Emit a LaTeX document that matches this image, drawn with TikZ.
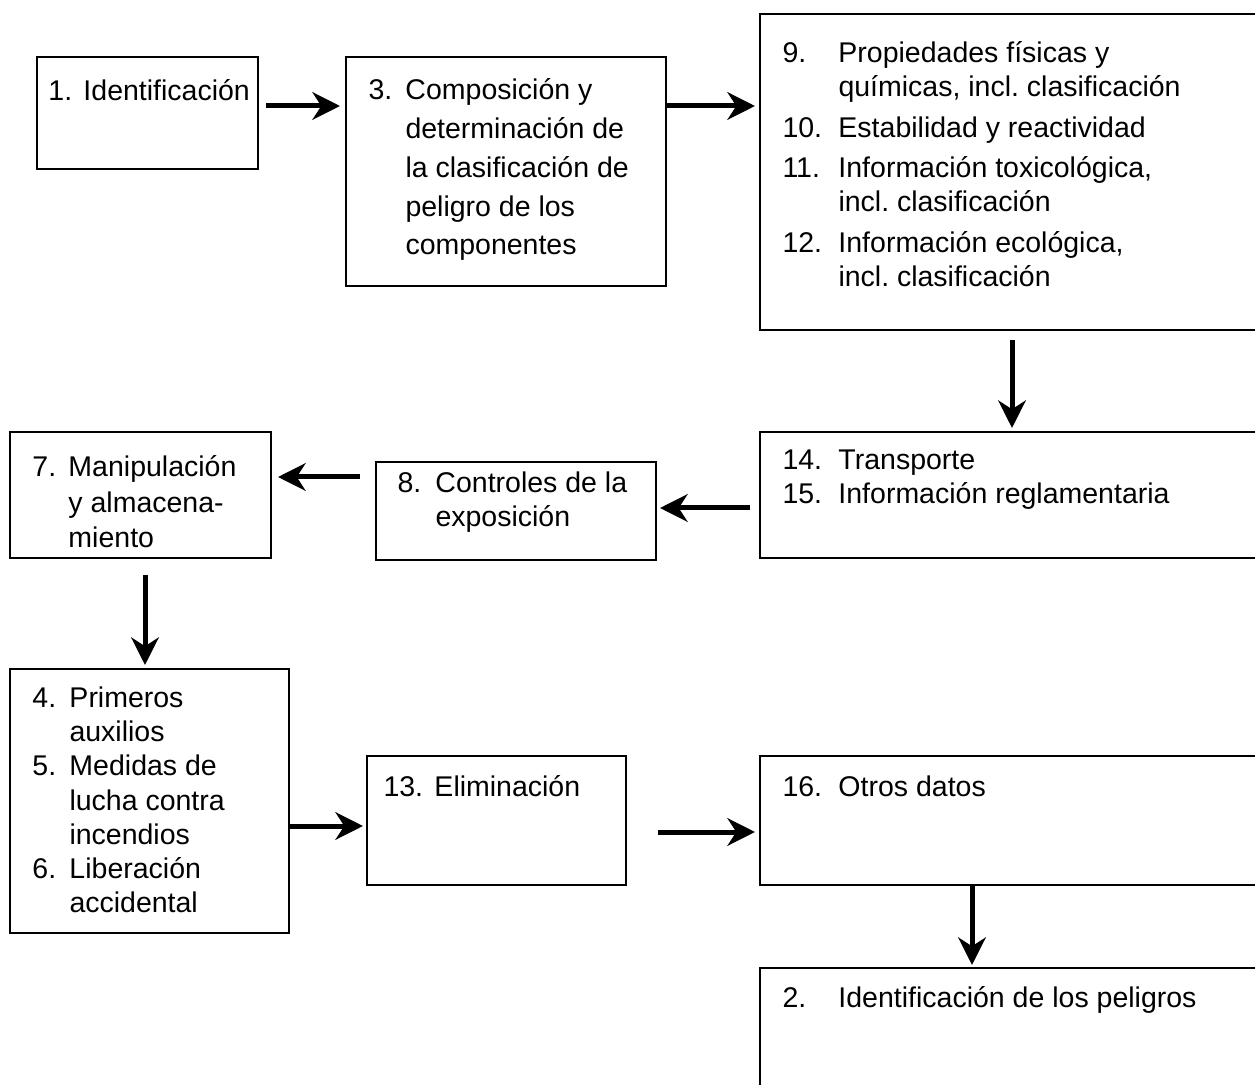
\documentclass[tikz,border=0pt]{standalone}
\usepackage{fontspec}
\setmainfont{Liberation Sans}
\usetikzlibrary{arrows.meta}
\frenchspacing
\newcommand\pxu{0.4pt}
\tikzstyle{blk}=[draw, line width=1pt, anchor=north west, inner sep=0pt, outer sep=0pt]
\tikzstyle{txt}=[anchor=base west, inner sep=0pt, font=\fontsize{11.4}{13.6}\selectfont]
\tikzstyle{ar}=[-{Stealth[length=11pt, width=11pt, inset=3.5pt]}, line width=2pt]

\begin{document}
\begin{tikzpicture}[x=\pxu, y=-\pxu]
    \useasboundingbox (0,0) rectangle (1255,1085);
    % boxes
    \node[blk, minimum width=221*\pxu, minimum height=112*\pxu] (b1)  at (37,57)  {};
    \node[blk, minimum width=320*\pxu, minimum height=229*\pxu] (b3)  at (346,57) {};
    \node[blk, minimum width=510*\pxu, minimum height=316*\pxu] (b9)  at (760,14) {};
    \node[blk, minimum width=510*\pxu, minimum height=126*\pxu] (b14) at (760,432) {};
    \node[blk, minimum width=280*\pxu, minimum height=98*\pxu]  (b8)  at (376,462) {};
    \node[blk, minimum width=261*\pxu, minimum height=126*\pxu] (b7)  at (10,432) {};
    \node[blk, minimum width=279*\pxu, minimum height=264*\pxu] (b4)  at (10,669) {};
    \node[blk, minimum width=259*\pxu, minimum height=129*\pxu] (b13) at (367,756) {};
    \node[blk, minimum width=510*\pxu, minimum height=129*\pxu] (b16) at (760,756) {};
    \node[blk, minimum width=510*\pxu, minimum height=140*\pxu] (b2)  at (760,968) {};

    % texts
    \node[txt] (t1) at (48,101) {\begin{tabular}[t]{@{}p{14pt}@{}l@{}}
        1. & Identificación\end{tabular}};
    \node[txt, font=\fontsize{11.4}{15.5}\selectfont] (t3) at (368,100) {\begin{tabular}[t]{@{}p{14.8pt}@{}l@{}}
        3. & Composición y\\ & determinación de\\ & la clasificación de\\
           & peligro de los\\ & componentes\end{tabular}};
    \node[txt] (t9) at (782,63) {\begin{tabular}[t]{@{}p{22.4pt}@{}l@{}}
        9.  & Propiedades físicas y\\ & químicas, incl. clasificación\\[2.6pt]
        10. & Estabilidad y reactividad\\[2.6pt]
        11. & Información toxicológica,\\ & incl. clasificación\\[2.6pt]
        12. & Información ecológica,\\ & incl. clasificación\end{tabular}};
    \node[txt] (t14) at (782,470) {\begin{tabular}[t]{@{}p{22.4pt}@{}l@{}}
        14. & Transporte\\ 15. & Información reglamentaria\end{tabular}};
    \node[txt] (t8) at (397,493) {\begin{tabular}[t]{@{}p{15.2pt}@{}l@{}}
        8. & Controles de la\\ & exposición\end{tabular}};
    \node[txt, font=\fontsize{11.4}{14.2}\selectfont] (t7) at (32,477) {\begin{tabular}[t]{@{}p{14.4pt}@{}l@{}}
        7. & Manipulación\\ & y almacena-\\ & miento\end{tabular}};
    \node[txt] (t4) at (32,708) {\begin{tabular}[t]{@{}p{14.8pt}@{}l@{}}
        4. & Primeros\\ & auxilios\\ 5. & Medidas de\\ & lucha contra\\
           & incendios\\ 6. & Liberación\\ & accidental\end{tabular}};
    \node[txt] (t13) at (383,796) {\begin{tabular}[t]{@{}p{20.4pt}@{}l@{}}
        13. & Eliminación\end{tabular}};
    \node[txt] (t16) at (782,796) {\begin{tabular}[t]{@{}p{22.4pt}@{}l@{}}
        16. & Otros datos\end{tabular}};
    \node[txt] (t2) at (782,1007) {\begin{tabular}[t]{@{}p{22.4pt}@{}l@{}}
        2. & Identificación de los peligros\end{tabular}};

    % arrows
    \draw[ar] ([shift={(8,49)}]b1.north east) -- ([shift={(-6,49)}]b3.north west);
    \draw[ar] ([shift={(0,49)}]b3.north east) -- ([shift={(-5,92)}]b9.north west);
    \draw[ar] ([shift={(252,10)}]b9.south west) -- ([shift={(252,-4)}]b14.north west);
    \draw[ar] ([shift={(-10,76)}]b14.north west) -- ([shift={(4,46)}]b8.north east);
    \draw[ar] ([shift={(-16,15)}]b8.north west) -- ([shift={(7,45)}]b7.north east);
    \draw[ar] ([shift={(135,17)}]b7.south west) -- ([shift={(135,-4)}]b4.north west);
    \draw[ar] ([shift={(0,157)}]b4.north east) -- ([shift={(-4,70)}]b13.north west);
    \draw[ar] ([shift={(32,76)}]b13.north east) -- ([shift={(-5,76)}]b16.north west);
    \draw[ar] ([shift={(212,0)}]b16.south west) -- ([shift={(212,-3)}]b2.north west);
\end{tikzpicture}
\end{document}
